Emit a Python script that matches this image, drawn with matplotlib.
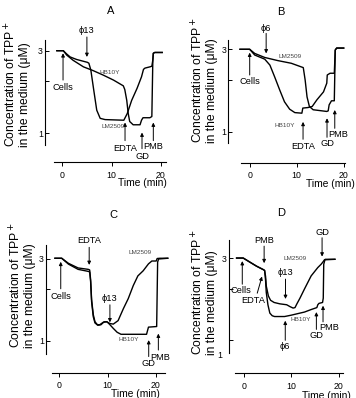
import numpy as np
import matplotlib
matplotlib.use("Agg")
import matplotlib.pyplot as plt
from matplotlib.ticker import NullLocator

plt.rcParams["font.family"] = ["Liberation Sans", "DejaVu Sans"]

# --- data: TPP+ in the medium (uM) against time (min) -------------------
A_LM_T = [-1.1, 0.2, 0.9, 1.6, 2.9, 5.1, 5.4, 5.8, 6.4, 7.0, 7.7, 8.7, 12.5, 13.2,
          14.1, 15.2, 16.1, 16.5, 16.8, 17.8, 18.2, 18.4, 18.5, 18.8, 20.3]
A_LM_C = [3.0, 3.0, 2.87, 2.76, 2.67, 2.57, 2.54, 2.32, 1.77, 1.36, 1.22, 1.20, 1.19, 1.30,
          1.55, 1.82, 2.12, 2.34, 2.38, 2.42, 2.44, 2.65, 2.90, 2.93, 2.93]
A_HB_T = [-1.1, 0.2, 0.9, 2.2, 4.3, 6.3, 8.3, 10.4, 12.4, 12.7, 13.1, 13.4, 13.7, 14.4,
          15.8, 16.1, 16.4, 17.8, 18.2, 18.4, 18.5, 18.8, 20.3]
A_HB_C = [3.0, 3.0, 2.83, 2.64, 2.42, 2.30, 2.17, 2.03, 1.88, 1.79, 1.55, 1.30, 1.17, 1.12,
          1.12, 1.19, 1.23, 1.23, 1.25, 2.65, 2.90, 2.93, 2.93]

B_LM_T = [-2.06, 0, 1.06, 3.2, 6.0, 8.85, 11.4, 11.8, 12.2, 12.7, 13.5, 16.4, 16.7, 16.9,
          17.4, 18.0, 18.2, 18.5, 20.0]
B_LM_C = [3.0, 3.0, 2.84, 2.69, 2.58, 2.49, 2.35, 1.99, 1.59, 1.40, 1.34, 1.31, 1.32, 1.43,
          1.51, 1.51, 2.97, 3.05, 3.05]
B_HB_T = [-2.06, 0, 1.06, 3.2, 4.3, 5.3, 6.4, 7.4, 8.5, 9.6, 11.1, 11.3, 12.4, 13.3, 14.3,
          15.7, 16.4, 16.5, 17.1, 18.0, 18.2, 18.5, 20.0]
B_HB_C = [3.0, 3.0, 2.78, 2.63, 2.43, 2.08, 1.74, 1.49, 1.35, 1.29, 1.28, 1.37, 1.38, 1.40, 1.53,
          1.70, 1.91, 2.13, 2.18, 2.18, 2.97, 3.05, 3.05]

C_LM_T = [-0.9, 0.5, 1.9, 3.9, 6.0, 6.3, 6.5, 6.7, 7.05, 7.4, 7.9, 8.4, 9.1, 9.8, 10.5, 11.2,
          12.2, 13.3, 14.3, 15.35, 16.3, 17.4, 18.5, 19.2, 20.1, 20.3, 20.9, 22.5]
C_LM_C = [3.03, 3.03, 2.83, 2.66, 2.61, 2.59, 2.27, 1.74, 1.42, 1.29, 1.24, 1.24, 1.28, 1.29,
          1.26, 1.25, 1.31, 1.54, 1.76, 2.10, 2.39, 2.56, 2.81, 2.92, 2.92, 3.02, 3.03, 3.03]
C_HB_T = [-0.9, 0.5, 1.9, 3.9, 6.0, 6.3, 6.5, 6.7, 7.05, 7.4, 8.0, 8.65, 9.3, 9.9, 10.5, 11.2,
          12.0, 12.8, 18.1, 18.5, 20.2, 20.4, 20.6, 22.5]
C_HB_C = [3.03, 3.03, 2.80, 2.61, 2.54, 2.52, 2.21, 1.69, 1.38, 1.27, 1.23, 1.24, 1.29, 1.29,
          1.24, 1.18, 1.12, 1.09, 1.09, 1.20, 1.21, 2.88, 3.0, 3.03]

D_LM_T = [-1.5, -0.1, 1.3, 2.7, 4.1, 4.4, 4.6, 4.75, 5.2, 5.65, 6.4, 7.6, 9.05, 9.75, 10.4,
          10.8, 11.2, 11.85, 12.8, 14.2, 15.6, 16.3, 16.7, 17.0, 17.2, 19.2]
D_LM_C = [3.01, 3.01, 2.85, 2.70, 2.58, 2.55, 2.36, 2.07, 1.81, 1.71, 1.66, 1.63, 1.61, 1.57,
          1.54, 1.55, 1.63, 1.76, 1.99, 2.37, 2.65, 2.77, 2.86, 2.94, 2.96, 2.96]
D_HB_T = [-1.5, -0.1, 1.3, 2.7, 4.1, 4.4, 4.6, 4.75, 5.1, 5.5, 6.0, 6.5, 8.6, 10.0, 11.4,
          12.8, 14.2, 15.4, 15.6, 15.85, 16.6, 16.75, 16.85, 17.1, 19.2]
D_HB_C = [3.01, 3.01, 2.85, 2.70, 2.58, 2.55, 2.24, 1.90, 1.61, 1.44, 1.39, 1.375, 1.375, 1.40,
          1.43, 1.46, 1.51, 1.55, 1.61, 1.64, 1.66, 1.76, 2.77, 2.94, 2.96]

X_TICKS = [0, 10, 20]
Y_TICKS = [1, 2, 3]
Y_TICKLABELS = ["1", "", "3"]

# additions: (text, text x, text y, arrow tail x, tail y, arrow head x, head y)
A_NOTES = [("\u03d513", 5.0, 3.91, 5.0, 3.60, 5.0, 2.76),
           ("Cells", 0.15, 1.84, 0.15, 2.03, 0.15, 2.90),
           ("EDTA", 12.75, 0.815, 12.75, 0.907, 12.75, 1.154),
           ("GD", 16.2, 0.732, 16.2, 0.815, 16.2, 1.01),
           ("PMB", 18.4, 0.837, 18.5, 0.907, 18.5, 1.154)]
B_NOTES = [("\u03d56", 3.5, 3.97, 3.5, 3.71, 3.5, 2.84),
           ("Cells", 0, 1.95, 0, 2.13, 0, 2.87),
           ("EDTA", 11.35, 0.819, 11.35, 0.904, 11.35, 1.14),
           ("GD", 16.45, 0.849, 16.45, 0.928, 16.45, 1.196),
           ("PMB", 18.8, 0.957, 18.1, 1.046, 18.1, 1.336)]
C_NOTES = [("EDTA", 6.2, 3.83, 6.2, 3.51, 6.2, 2.77),
           ("Cells", 0.3, 1.82, 0.3, 2.01, 0.3, 2.89),
           ("\u03d513", 10.4, 1.76, 10.5, 1.62, 10.5, 1.28),
           ("GD", 18.4, 0.739, 18.55, 0.808, 18.55, 1.008),
           ("PMB", 20.95, 0.80, 20.55, 0.882, 20.55, 1.10)]
D_NOTES = [("PMB", 4.3, 3.82, 4.3, 3.53, 4.3, 2.81),
           ("GD", 16.5, 4.25, 16.5, 3.95, 16.5, 3.07),
           ("\u03d513", 8.85, 2.48, 8.8, 2.27, 8.8, 1.74),
           ("Cells", -0.5, 1.94, -0.3, 2.12, -0.3, 2.89),
           ("EDTA", 2.0, 1.70, 2.85, 1.88, 3.85, 2.35),
           ("\u03d56", 8.75, 0.916, 8.75, 1.0, 8.75, 1.30),
           ("GD", 15.3, 1.07, 15.3, 1.157, 15.3, 1.46),
           ("PMB", 18.1, 1.195, 16.7, 1.28, 16.7, 1.59)]

# strain names next to the traces: (text, x, y)
A_STRAINS = [("HB10Y", 9.7, 2.25), ("LM2509", 10.3, 1.09)]
B_STRAINS = [("LM2509", 8.5, 2.72), ("HB10Y", 7.45, 1.08)]
C_STRAINS = [("LM2509", 16.75, 3.28), ("HB10Y", 14.3, 1.02)]
D_STRAINS = [("LM2509", 10.85, 2.99), ("HB10Y", 12.0, 1.33)]

# --- layout (pixels in a 356 x 398 figure) --------------------------------
W, H = 356, 398
GEOM = {
    "A": dict(spine=45, right=170, top=40, bot=145, x0=62.3, x20=160.7,
              y3=50.7, y1=133.3, xline=162.3, xb=(54, 166)),
    "B": dict(spine=228.3, right=350, top=40, bot=143, x0=249.7, x20=343.7,
              y3=49.3, y1=131.7, xline=162.7, xb=(241, 344.7)),
    "C": dict(spine=46, right=172, top=245, bot=353.5, x0=59.3, x20=155.7,
              y3=259, y1=340.7, xline=373, xb=(51.7, 165)),
    "D": dict(spine=229, right=350, top=240, bot=353, x0=243.7, x20=338.7,
              y3=258.3, y1=340.3, xline=373.3, xb=(234.7, 343)),
}
TITLE_XY = {"A": (111, 11), "B": (280.7, 11.7), "C": (113.3, 215), "D": (280.7, 213)}
YLABEL_XY = {"A": (17, 147), "B": (204.5, 143), "C": (22, 348), "D": (204, 355)}
XLABEL_XY = {"A": (166.7, 183.5), "B": (354.7, 184), "C": (160, 394), "D": (351, 395.7)}

PANELS = {
    "A": (A_LM_T, A_LM_C, A_HB_T, A_HB_C, A_NOTES, A_STRAINS),
    "B": (B_LM_T, B_LM_C, B_HB_T, B_HB_C, B_NOTES, B_STRAINS),
    "C": (C_LM_T, C_LM_C, C_HB_T, C_HB_C, C_NOTES, C_STRAINS),
    "D": (D_LM_T, D_LM_C, D_HB_T, D_HB_C, D_NOTES, D_STRAINS),
}

fig = plt.figure(figsize=(W / 100, H / 100), dpi=100)


def ftext(xpx, ypx, s, **kw):
    return fig.text(xpx / W, 1 - ypx / H, s, **kw)


def setup(ax, g):
    ppm = (g["x20"] - g["x0"]) / 20
    d = (g["y1"] - g["y3"]) / np.log10(3)
    ax.set_position([g["spine"] / W, 1 - g["bot"] / H,
                     (g["right"] - g["spine"]) / W, (g["bot"] - g["top"]) / H])
    ax.set_yscale("log")
    ax.set_xlim((g["spine"] - g["x0"]) / ppm, (g["right"] - g["x0"]) / ppm)
    ax.set_ylim(10 ** ((g["y1"] - g["bot"]) / d), 10 ** ((g["y1"] - g["top"]) / d))
    ax.patch.set_alpha(0)
    for s in ("top", "right"):
        ax.spines[s].set_visible(False)
    for s in ("left", "bottom"):
        ax.spines[s].set_linewidth(0.8)
    ax.spines["bottom"].set_position(("outward", (g["xline"] - g["bot"]) * 0.72))
    ax.spines["bottom"].set_bounds((g["xb"][0] - g["x0"]) / ppm, (g["xb"][1] - g["x0"]) / ppm)
    ax.set_yticks(Y_TICKS)
    ax.set_yticklabels(Y_TICKLABELS)
    ax.yaxis.set_minor_locator(NullLocator())
    ax.set_xticks(X_TICKS)
    ax.tick_params(axis="y", direction="in", length=3, width=0.7, pad=1.5, labelsize=6.3)
    ax.tick_params(axis="x", direction="out", length=3, width=0.7, pad=3.0, labelsize=6.3)


arrow_kw = dict(arrowstyle="-|>", color="black", lw=0.7, mutation_scale=5,
                shrinkA=0, shrinkB=0)

for key, (lm_t, lm_c, hb_t, hb_c, notes, strains) in PANELS.items():
    ax = fig.add_axes([0, 0, 1, 1])
    setup(ax, GEOM[key])
    ax.plot(lm_t, lm_c, color="black", lw=1.0, clip_on=False)
    ax.plot(hb_t, hb_c, color="black", lw=1.0, clip_on=False)
    for label, tx, ty, x0, y0, x1, y1 in notes:
        ax.annotate("", xy=(x1, y1), xytext=(x0, y0), arrowprops=arrow_kw,
                    annotation_clip=False)
        ax.text(tx, ty, label, ha="center", va="center", fontsize=6.7, clip_on=False)
    for label, sx, sy in strains:
        ax.text(sx, sy, label, ha="center", va="center", fontsize=4.6,
                color="#444444", clip_on=False)
    if key == "D":
        # the lower tick label of panel D sits below its tick
        ax.text(-5.0, 0.82, "1", ha="center", va="center", fontsize=6.3, clip_on=False)
        ax.set_yticklabels(["", "", "3"])

    ftext(*TITLE_XY[key], key, ha="center", va="center", fontsize=8)
    ftext(*YLABEL_XY[key], "Concentration of TPP$^+$\nin the medium (\u03bcM)",
          rotation=90, ha="center", va="bottom", multialignment="left",
          fontsize=8.7, linespacing=1.05)
    ftext(*XLABEL_XY[key], "Time (min)", ha="right", va="center", fontsize=7.4)

fig.savefig("out.png", dpi=100)
